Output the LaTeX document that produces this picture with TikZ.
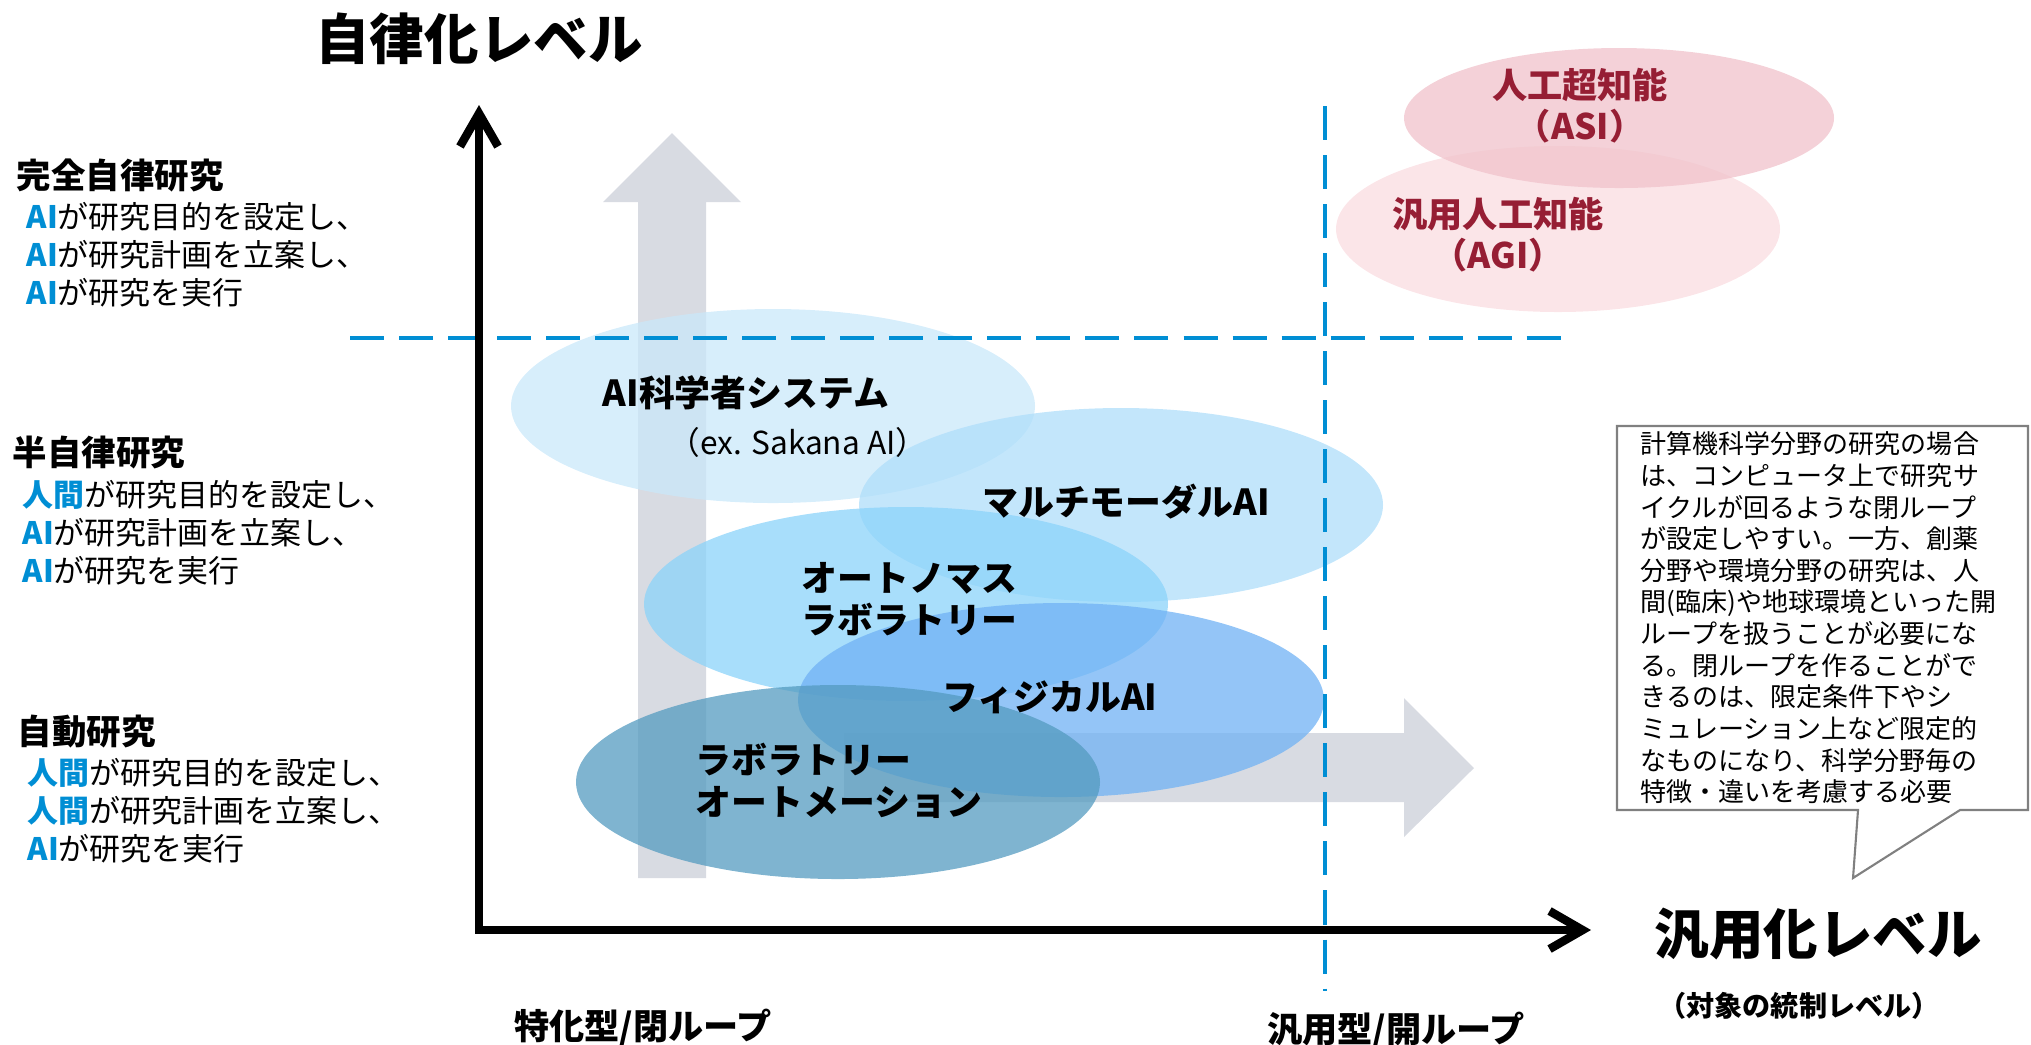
\documentclass[tikz,border=0pt]{standalone}
\usepackage{fontspec}
\setmainfont{Noto Sans CJK JP}
\usetikzlibrary{arrows.meta,positioning}
\definecolor{bleu}{RGB}{0,142,212}
\definecolor{grisfleche}{RGB}{216,219,226}
\definecolor{rouge}{RGB}{150,30,52}
\definecolor{cielA}{RGB}{202,232,250}
\definecolor{cielB}{RGB}{175,222,250}
\definecolor{cielC}{RGB}{139,211,250}
\definecolor{cielD}{RGB}{112,178,244}
\definecolor{cielE}{RGB}{84,155,192}
\definecolor{roseA}{RGB}{250,220,224}
\definecolor{roseB}{RGB}{240,194,203}
\newcommand{\motcle}[1]{\textcolor{bleu}{\bfseries #1}}

\begin{document}
\begin{tikzpicture}[x=0.01cm,y=-0.01cm,
  axe/.style={line width=2.4pt,line join=miter,{Straight Barb[length=3.3mm,width=3.8mm]}-{Straight Barb[length=3.3mm,width=3.8mm]}},
  repere/.style={draw=bleu,line width=1.2pt,dash pattern=on 3.4mm off 1.5mm},
  bulle/.style={fill=#1,fill opacity=0.75},
  grand/.style={inner sep=0,font=\fontsize{15.5}{18}\selectfont\bfseries},
  niveau/.style={anchor=west,inner sep=0,font=\fontsize{9.8}{12}\selectfont\bfseries},
  detail/.style={anchor=north west,inner sep=0,align=left,font=\fontsize{8.8}{10.8}\selectfont},
  etiquette/.style={inner sep=0,align=left,font=\fontsize{10.2}{12}\selectfont\bfseries},
  rose/.style={inner sep=0,align=center,text=rouge,font=\fontsize{10}{11.6}\selectfont\bfseries}]
\useasboundingbox (0,0) rectangle (2031,1044);

% Fleches grises de fond
\fill[grisfleche] (638,878) -- (638,202) -- (603,202) -- (672,133) -- (741,202) -- (706,202) -- (706,878) -- cycle;
\fill[grisfleche] (844,733) -- (1404,733) -- (1404,698) -- (1474,768) -- (1404,837) -- (1404,802) -- (844,802) -- cycle;

% Bulles bleues
\fill[bulle=cielA] (773,406) ellipse [x radius=262,y radius=97];
\fill[bulle=cielB] (1121,505) ellipse [x radius=262,y radius=97];
\fill[bulle=cielC] (906,604) ellipse [x radius=262,y radius=97];
\fill[bulle=cielD] (1061,700) ellipse [x radius=263,y radius=97];
\fill[bulle=cielE] (838,782) ellipse [x radius=262,y radius=97];

% Bulles roses
\fill[bulle=roseA] (1558,229) ellipse [x radius=222,y radius=83];
\fill[bulle=roseB] (1619,118) ellipse [x radius=215,y radius=70];

% Lignes de separation
\draw[repere] (350,338) -- (1571,338);
\draw[repere] (1325,106) -- (1325,991);

% Axes
\coordinate (haut) at (479,105);
\coordinate (origine) at (479,930);
\coordinate (droite) at (1591,930);
\draw[axe] (haut) -- (origine) -- (droite);

\node[grand] (titre) at (479,39) {自律化レベル};
\node[grand] (absc) at (1818,934) {汎用化レベル};
\node[inner sep=0,font=\fontsize{8}{10}\selectfont\bfseries] (controle) at (1799,1006) {（対象の統制レベル）};
\node[inner sep=0,font=\fontsize{10}{12}\selectfont\bfseries] (ferme) at (643,1027) {特化型/閉ループ};
\node[inner sep=0,font=\fontsize{10}{12}\selectfont\bfseries] (ouvert) at (1396,1030) {汎用型/開ループ};

% Niveaux
\node[niveau] (complet) at (16,175) {完全自律研究};
\node[detail] (completd) at (26,202) {\motcle{AI}が研究目的を設定し、\\\motcle{AI}が研究計画を立案し、\\\motcle{AI}が研究を実行};
\node[niveau] (semi) at (12,453) {半自律研究};
\node[detail] (semid) at (22,480) {\motcle{人間}が研究目的を設定し、\\\motcle{AI}が研究計画を立案し、\\\motcle{AI}が研究を実行};
\node[niveau] (auto) at (17,732) {自動研究};
\node[detail] (autod) at (27,758) {\motcle{人間}が研究目的を設定し、\\\motcle{人間}が研究計画を立案し、\\\motcle{AI}が研究を実行};

% Etiquettes des bulles
\node[etiquette] (scient) at (746,393) {AI科学者システム};
\node[inner sep=0,font=\fontsize{9}{11}\selectfont] (sakana) at (798,442) {（ex. Sakana AI）};
\node[etiquette] (multi) at (1126,502) {マルチモーダルAI};
\node[etiquette,anchor=west] (autonome) at (801,599) {オートノマス\\ラボラトリー};
\node[etiquette] (physique) at (1050,697) {フィジカルAI};
\node[etiquette,anchor=west] (labo) at (695,781) {ラボラトリー\\オートメーション};
\node[rose] (asi) at (1580,106) {人工超知能\\（ASI）};
\node[rose] (agi) at (1498,235) {汎用人工知能\\（AGI）};

% Commentaire
\draw[gray,line width=0.6pt,fill=white] (1617,426) -- (2028,426) -- (2028,810) -- (1960,810) -- (1853,878) -- (1858,810) -- (1617,810) -- cycle;
\node[anchor=north west,inner sep=0,align=left,font=\fontsize{7.4}{9}\selectfont] (note) at (1640,431) {計算機科学分野の研究の場合\\は、コンピュータ上で研究サ\\イクルが回るような閉ループ\\が設定しやすい。一方、創薬\\分野や環境分野の研究は、人\\間(臨床)や地球環境といった開\\ループを扱うことが必要にな\\る。閉ループを作ることがで\\きるのは、限定条件下やシ\\ミュレーション上など限定的\\なものになり、科学分野毎の\\特徴・違いを考慮する必要};
\end{tikzpicture}
\end{document}
